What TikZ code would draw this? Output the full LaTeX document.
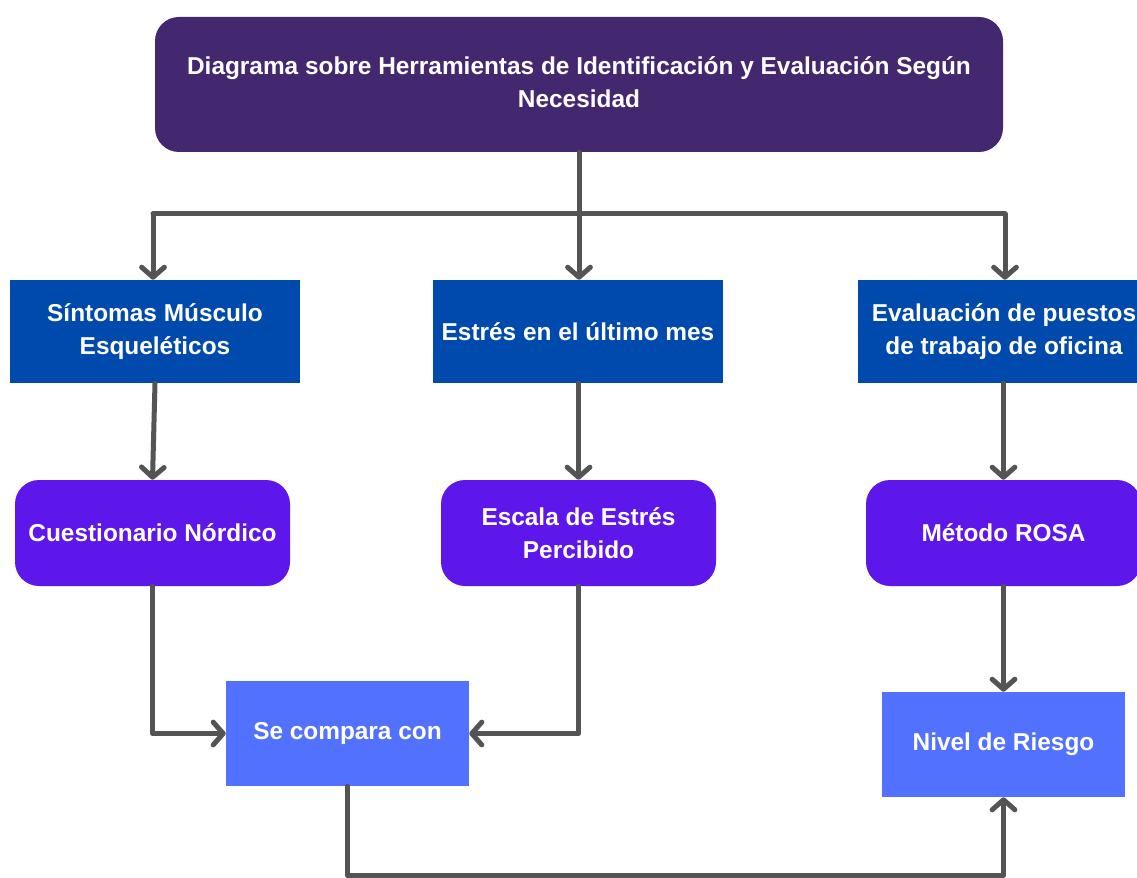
\documentclass[tikz,border=0pt]{standalone}
\usepackage{fontspec}
\setmainfont{Liberation Sans}
\usetikzlibrary{arrows.meta}
\definecolor{titlec}{RGB}{67,40,112}
\definecolor{bluec}{RGB}{0,74,173}
\definecolor{violetc}{RGB}{94,23,235}
\definecolor{lightc}{RGB}{82,113,255}
\definecolor{linec}{RGB}{84,84,84}
\tikzset{
  txt/.style={text=white, font=\fontsize{18.3}{24.75}\selectfont\bfseries, align=center, inner sep=0pt},
  titlebox/.style={txt, fill=titlec, rounded corners=18pt, minimum width=636pt, minimum height=101.25pt},
  bluebox/.style={txt, fill=bluec, minimum height=77.25pt},
  violetbox/.style={txt, fill=violetc, rounded corners=18pt, minimum width=206.25pt, minimum height=79.5pt},
  lightbox/.style={txt, fill=lightc, minimum width=182.25pt, minimum height=78.75pt},
  conn/.style={draw=linec, line width=3.75pt, line cap=round, line join=round},
  arr/.style={conn, -{Straight Barb[length=7.5pt, width=17pt, line cap=round, line join=round]}}
}
\begin{document}
\begin{tikzpicture}[x=0.75pt, y=-0.75pt]
\clip (0,0) rectangle (1137,877);
\fill[white] (0,0) rectangle (1137,877);

\node[titlebox] (title) at (579,84.5) {\raisebox{1.5pt}{\begin{tabular}{@{}c@{}}Diagrama sobre Herramientas de Identificación y Evaluación Según\\[-0.3pt]Necesidad\end{tabular}}};

\node[bluebox, minimum width=217.5pt] (b1) at (155,331.5) {Síntomas Músculo\\Esqueléticos};
\node[bluebox, minimum width=217.5pt] (b2) at (578,331.5) {Estrés en el último mes};
\node[bluebox, minimum width=219pt] (b3) at (1004,331.5) {Evaluación de puestos\\de trabajo de oficina};

\node[violetbox] (c1) at (152.5,533) {Cuestionario Nórdico};
\node[violetbox] (c2) at (578.5,533) {Escala de Estrés\\Percibido};
\node[violetbox] (c3) at (1003.5,533) {Método ROSA};

\node[lightbox] (s) at (347.5,733.5) {Se compara con};
\node[lightbox] (n) at (1003.5,744.5) {Nivel de Riesgo};

\coordinate (hl) at (153,214);
\coordinate (hm) at (579,214);
\coordinate (hr) at (1005,214);

\draw[conn] (title.south) -- (hm);
\draw[conn] (hl) -- (hr);
\draw[arr] (hl) -- (hl |- b1.north);
\draw[arr] (hm) -- (hm |- b2.north);
\draw[arr] (hr) -- (hr |- b3.north);

\draw[arr] (b1.south) -- (c1.north);
\draw[arr] (b2.south -| c2.north) -- (c2.north);
\draw[arr] (b3.south -| c3.north) -- (c3.north);

\draw[arr] (c1.south) |- (s.west);
\draw[arr] (c2.south) |- (s.east);
\draw[arr] (c3.south) -- (n.north);
\draw[arr] (s.south) -- ++(0,89) -| (n.south);
\end{tikzpicture}
\end{document}
